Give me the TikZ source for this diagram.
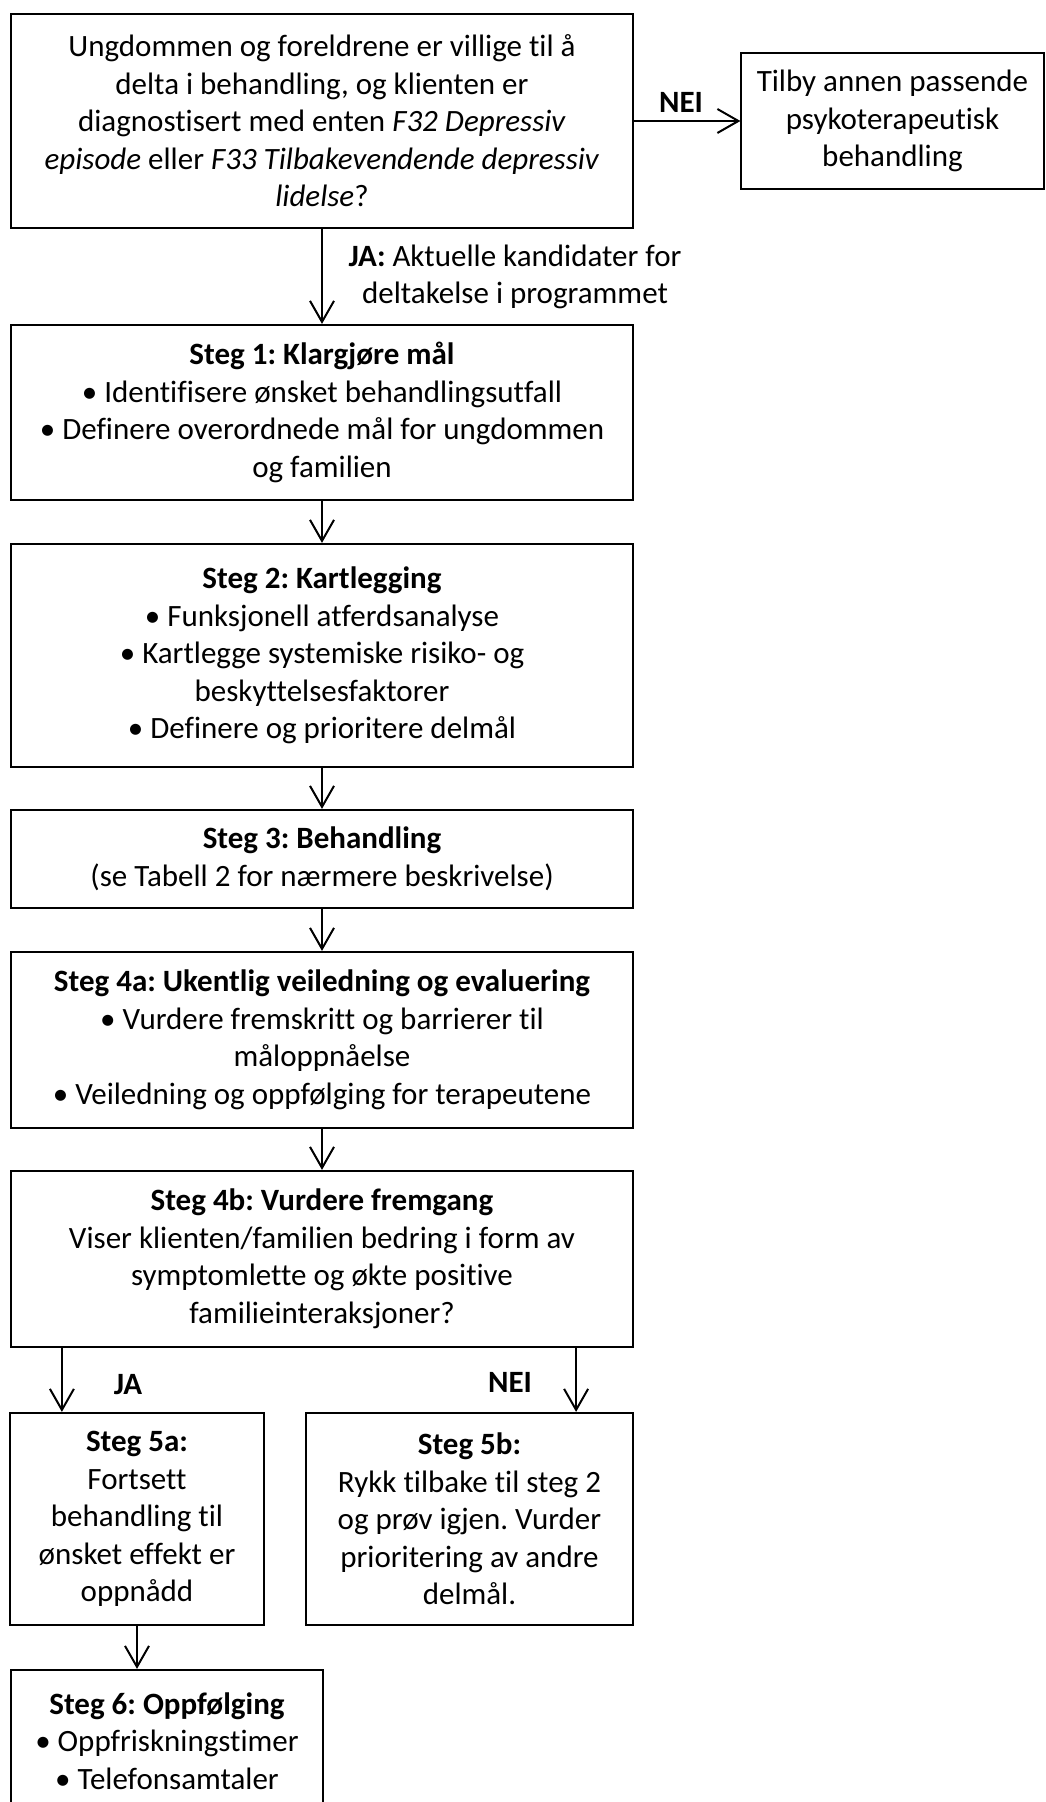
\documentclass[tikz,border=0pt]{standalone}
\usepackage{fontspec}
\setmainfont{Carlito}[Ligatures={NoCommon}]
\frenchspacing
\usetikzlibrary{arrows.meta}
\tikzset{
  box/.style={draw=black, line width=1.1pt, rectangle, align=center, inner sep=0pt,
    minimum width=311pt, font=\fontsize{15.5}{18.75}\selectfont},
  thinbox/.style={draw=black, line width=0.6pt, rectangle, align=center, inner sep=0pt,
    font=\fontsize{15.5}{18.75}\selectfont},
  lbl/.style={align=center, inner sep=0pt, font=\fontsize{15.5}{18.75}\selectfont},
  boldlbl/.style={align=center, inner sep=0pt, font=\fontsize{15.5}{18.75}\selectfont\bfseries},
  arr/.style={line width=1pt, -{Straight Barb[length=10.5pt,width=12pt,line width=1pt]}},
}
\begin{document}
\begin{tikzpicture}[x=0.5pt,y=-0.5pt]
\useasboundingbox (0,0) rectangle (1045,1802);
\clip (0,0) rectangle (1045,1802);

\node[box, minimum height=107pt] (q1) at (322,121)
  {Ungdommen og foreldrene er villige til å\\
   delta i behandling, og klienten er\\
   diagnostisert med enten \textit{F32 Depressiv}\\
   \textit{episode} eller \textit{F33 Tilbakevendende depressiv}\\
   \textit{lidelse}?};

\node[thinbox, minimum width=151.5pt, minimum height=68pt] (other) at (892.5,121)
  {Tilby annen passende\\psykoterapeutisk\\behandling};

\node[box, minimum height=87.5pt] (s1) at (322,412.5)
  {\textbf{Steg 1: Klargjøre mål}\\
   • Identifisere ønsket behandlingsutfall\\
   • Definere overordnede mål for ungdommen\\
   og familien};

\node[box, minimum height=111.5pt] (s2) at (322,655.5)
  {\textbf{Steg 2: Kartlegging}\\
   • Funksjonell atferdsanalyse\\
   • Kartlegge systemiske risiko- og\\
   beskyttelsesfaktorer\\
   • Definere og prioritere delmål};

\node[box, minimum height=49pt] (s3) at (322,859)
  {\textbf{Steg 3: Behandling}\\
   (se Tabell 2 for nærmere beskrivelse)};

\node[box, minimum height=88pt] (s4a) at (322,1040)
  {\textbf{Steg 4a: Ukentlig veiledning og evaluering}\\
   • Vurdere fremskritt og barrierer til\\
   måloppnåelse\\
   • Veiledning og oppfølging for terapeutene};

\node[box, minimum height=88pt] (s4b) at (322,1259)
  {\textbf{Steg 4b: Vurdere fremgang}\\
   Viser klienten/familien bedring i form av\\
   symptomlette og økte positive\\
   familieinteraksjoner?};

\node[box, minimum width=127pt, minimum height=106pt] (s5a) at (137,1519)
  {\textbf{Steg 5a:}\\Fortsett\\behandling til\\ønsket effekt er\\oppnådd};

\node[box, minimum width=163.5pt, minimum height=106pt] (s5b) at (469.5,1519)
  {\textbf{Steg 5b:}\\Rykk tilbake til steg 2\\og prøv igjen. Vurder\\prioritering av andre\\delmål.};

\node[box, minimum width=156pt, minimum height=71pt] (s6) at (167,1741)
  {\textbf{Steg 6: Oppfølging}\\• Oppfriskningstimer\\• Telefonsamtaler};

% connectors
\draw[arr] (q1.east) -- (other.west);
\node[boldlbl] (nei1) at (681,102) {NEI};

\draw[arr] (q1.south) -- (s1.north);
\node[lbl] (ja1) at (515,277) {\textbf{JA:} Aktuelle kandidater for\\deltakelse i programmet};

\draw[arr] (s1.south) -- (s2.north);
\draw[arr] (s2.south) -- (s3.north);
\draw[arr] (s3.south) -- (s4a.north);
\draw[arr] (s4a.south) -- (s4b.north);

\coordinate (ja2start) at ([xshift=26pt]s4b.south west);
\coordinate (nei2start) at ([xshift=-29pt]s4b.south east);
\draw[arr] (ja2start) -- (ja2start |- s5a.north);
\draw[arr] (nei2start) -- (nei2start |- s5b.north);
\node[boldlbl] (ja2) at (128,1385) {JA};
\node[boldlbl] (nei2) at (510,1382) {NEI};

\draw[arr] (s5a.south) -- (s5a.south |- s6.north);
\end{tikzpicture}
\end{document}
